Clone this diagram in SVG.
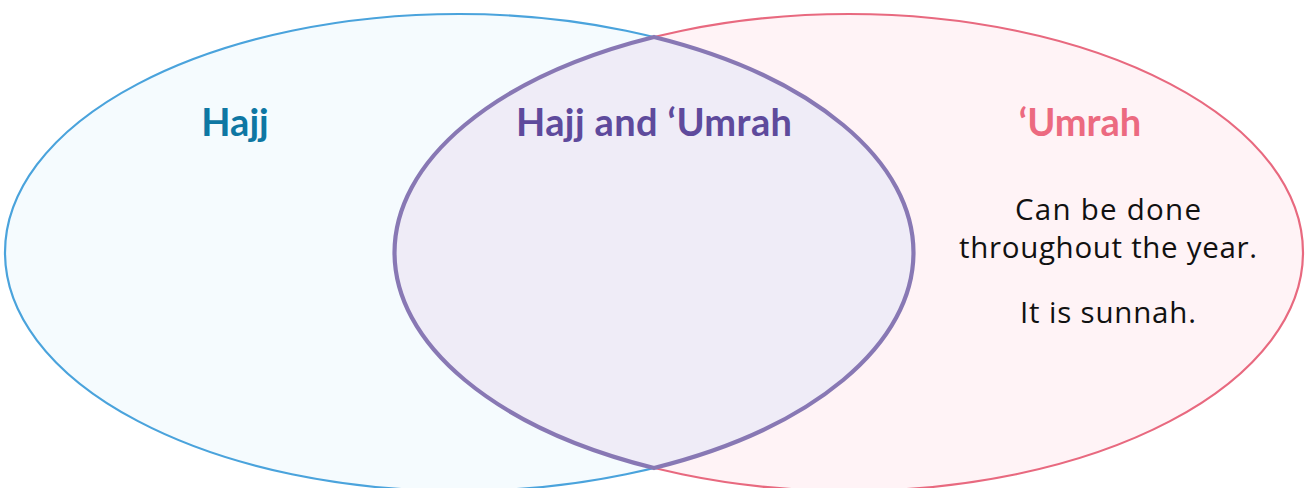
<svg xmlns="http://www.w3.org/2000/svg" width="1309" height="488" viewBox="0 0 1309 488">
<style>
.title{font-family:Lato,"Open Sans","Liberation Sans",sans-serif;font-weight:700;font-size:38px;text-anchor:middle}
.body{font-family:"Open Sans",Lato,"Liberation Sans",sans-serif;font-size:29.5px;fill:#111;text-anchor:middle}
</style>
<rect width="1309" height="488" fill="#ffffff"/>
<g id="hajj">
<ellipse cx="459" cy="252.5" rx="454" ry="238.5" fill="#f5fbfe" stroke="#4aa3dc" stroke-width="2.2"/>
</g>
<g id="umrah">
<ellipse cx="849" cy="252.5" rx="454" ry="238.5" fill="#fff3f6" stroke="#e8697f" stroke-width="2.2"/>
</g>
<g id="both">
<path d="M654,37 A454,238.5 0 0 0 654,468 A454,238.5 0 0 0 654,37 Z" fill="#efecf7" stroke="#8878b4" stroke-width="4.2" stroke-linejoin="miter"/>
</g>
<g id="labels">
<text class="title" x="235" y="136" fill="#0e77a3">Hajj</text>
<text class="title" x="654" y="136" fill="#5e4a9c" textLength="276" lengthAdjust="spacing">Hajj and ‘Umrah</text>
<text class="title" x="1080" y="136" fill="#ec6a80">‘Umrah</text>
<text class="body" x="1108" y="220" textLength="186" lengthAdjust="spacing">Can be done</text>
<text class="body" x="1108" y="258" textLength="298" lengthAdjust="spacing">throughout the year.</text>
<text class="body" x="1108" y="323" textLength="176" lengthAdjust="spacing">It is sunnah.</text>
</g>
</svg>
